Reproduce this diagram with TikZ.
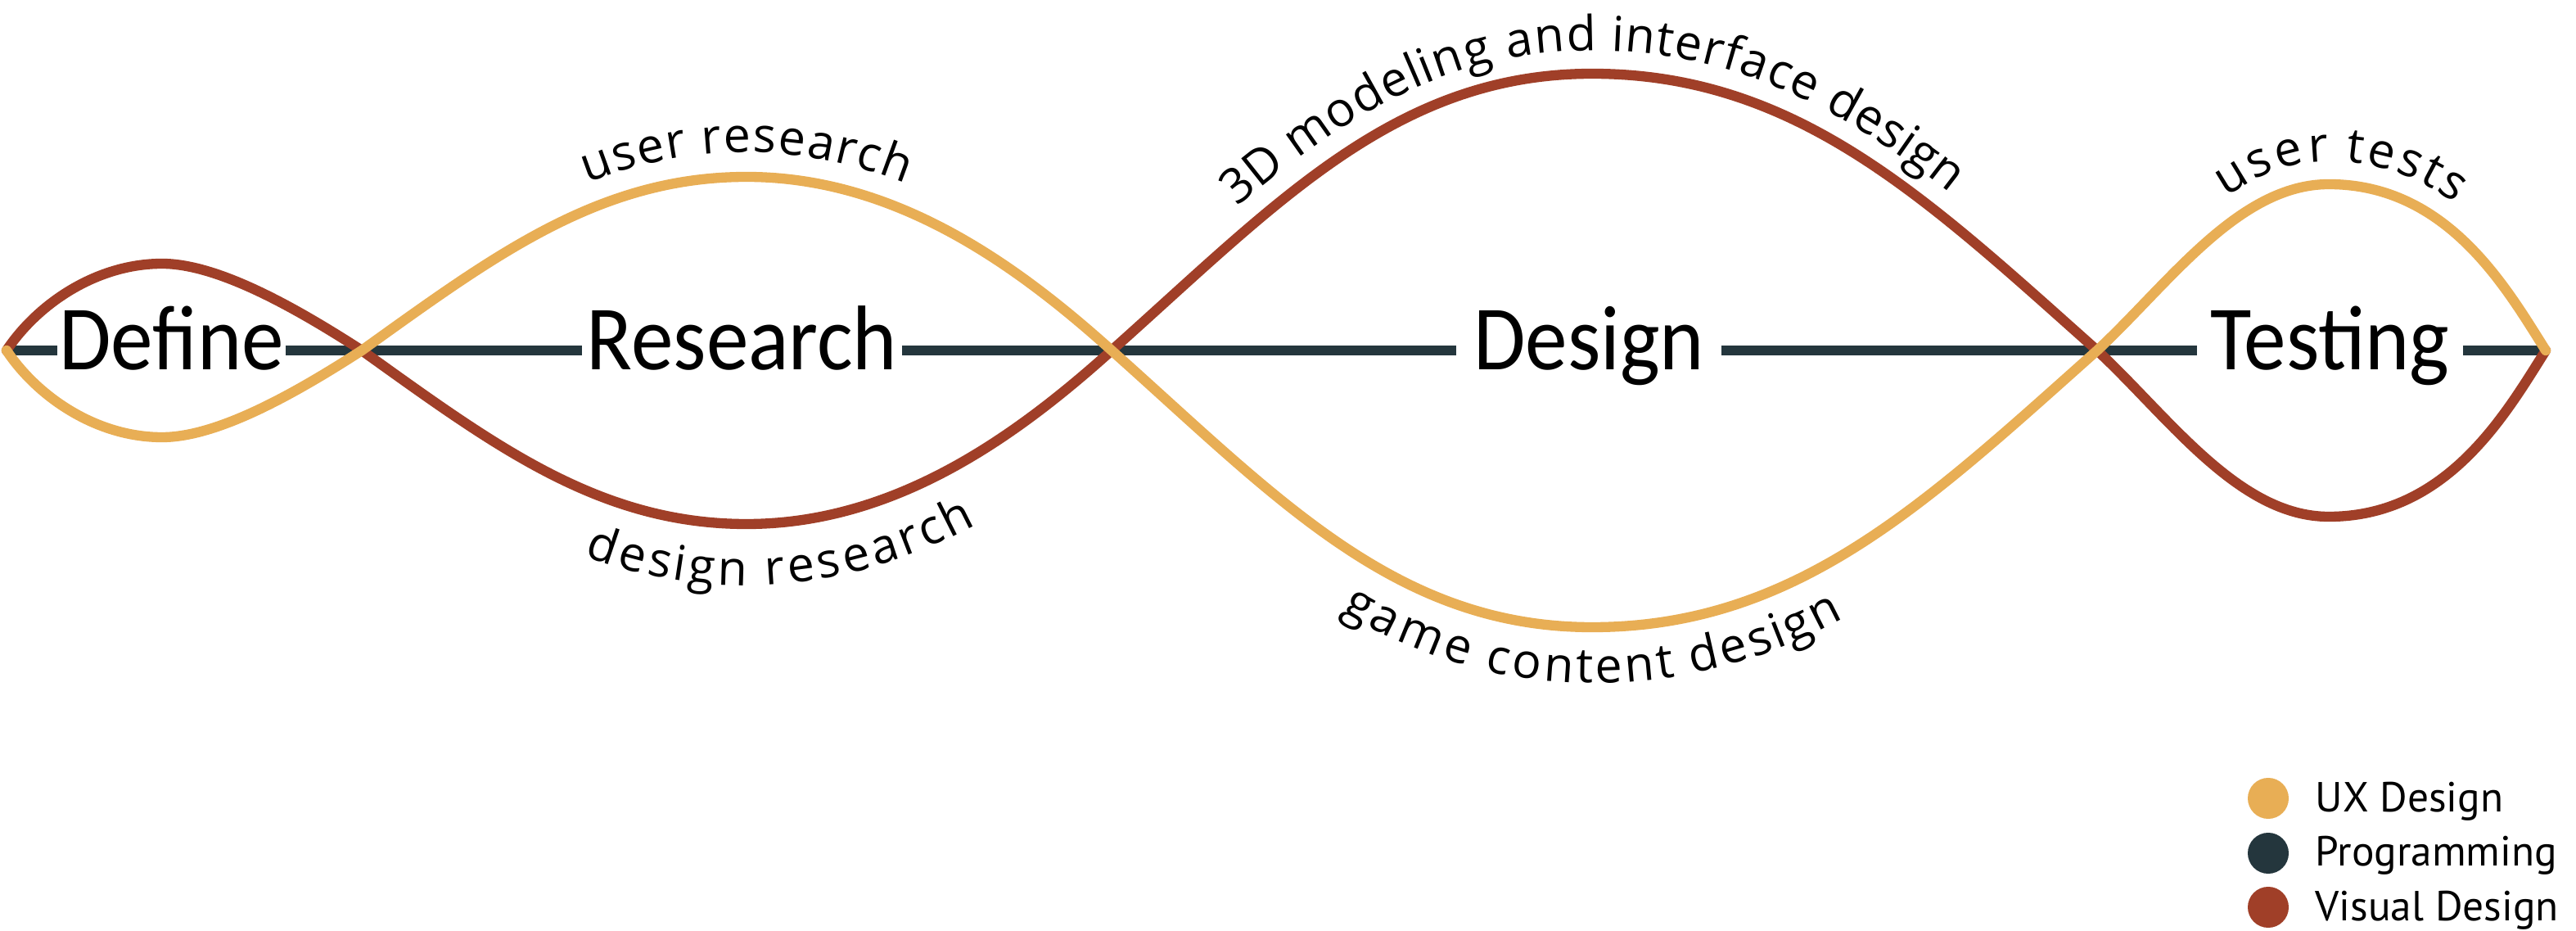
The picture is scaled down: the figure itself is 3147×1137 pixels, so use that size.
\documentclass[tikz,border=0pt]{standalone}
\usepackage{fontspec}
\setmainfont{Open Sans}
\newfontfamily\bigfont[FakeStretch=0.92]{Carlito}
\newfontfamily\curvefont{Open Sans}
\newfontfamily\legfont{PT Sans}
\usetikzlibrary{decorations.text}
\definecolor{uxcol}{HTML}{E8AE55}
\definecolor{progcol}{HTML}{24363D}
\definecolor{viscol}{HTML}{A03F28}
\newcommand{\curvelabfont}{\curvefont\fontsize{16.8pt}{20pt}\selectfont}
\begin{document}
\begin{tikzpicture}[x=0.01cm,y=-0.01cm,
  stage/.style={font=\bigfont\fontsize{31.9pt}{36pt}\selectfont, inner sep=0pt, text height=0.71cm, text depth=0.25cm},
  axisline/.style={progcol, line width=3.4pt},
  uxline/.style={uxcol, line width=3.5pt, line cap=round},
  visline/.style={viscol, line width=3.5pt, line cap=round},
  legdot/.style={circle, minimum size=0.5cm, inner sep=0pt},
  legtext/.style={font=\legfont\fontsize{14.6pt}{18pt}\selectfont, anchor=base west, inner sep=0pt}
]
\useasboundingbox (0,0) rectangle (3147,1137);

% crossing points on the axis
\coordinate (s) at (8,428);
\coordinate (x1) at (442,428);
\coordinate (x2) at (1358,428);
\coordinate (x3) at (2562,428);
\coordinate (e) at (3110,428);
\coordinate (as) at (14,428);
\coordinate (ae) at (3108,428);

% peaks
\coordinate (dtop) at (198,322);   \coordinate (dbot) at (198,534);
\coordinate (rtop) at (912,216);   \coordinate (rbot) at (912,640);
\coordinate (gtop) at (1945,90);   \coordinate (gbot) at (1945,766);
\coordinate (ttop) at (2845,225);  \coordinate (tbot) at (2845,631);

% stage labels
\node[stage, minimum width=2.77cm] (define) at (209.5,428) {Define};
\node[stage, minimum width=3.89cm] (research) at (906.5,428) {Research};
\node[stage, minimum width=3.22cm] (design) at (1941,428) {Design};
\node[stage, minimum width=3.23cm] (testing) at (2846.5,428) {Testing};

% programming axis
\draw[axisline] (as) -- (define.west);
\draw[axisline] (define.east) -- (research.west);
\draw[axisline] (research.east) -- (design.west);
\draw[axisline] (design.east) -- (testing.west);
\draw[axisline] (testing.east) -- (ae);

% visual design curve
\draw[visline] (s) .. controls (46,371) and (118,322) .. (dtop)
  .. controls (268,322) and (366,379) .. (x1)
  .. controls (604,544) and (732,640) .. (rbot)
  .. controls (1092,640) and (1239,535) .. (x2)
  .. controls (1560,248) and (1705,90) .. (gtop)
  .. controls (2195,90) and (2353,242) .. (x3)
  .. controls (2650,510) and (2735,631) .. (tbot)
  .. controls (2990,631) and (3062,504) .. (e);

% UX design curve
\draw[uxline] (s) .. controls (46,485) and (118,534) .. (dbot)
  .. controls (268,534) and (366,477) .. (x1)
  .. controls (604,312) and (732,216) .. (rtop)
  .. controls (1092,216) and (1239,321) .. (x2)
  .. controls (1560,608) and (1705,766) .. (gbot)
  .. controls (2195,766) and (2353,614) .. (x3)
  .. controls (2650,346) and (2735,225) .. (ttop)
  .. controls (2990,225) and (3062,352) .. (e);

% curve labels
\path[decorate, decoration={text along path, text={|\curvelabfont|user research}, text align={center, left indent=0.2cm}, raise=0.30cm}]
  (x1) .. controls (604,312) and (732,216) .. (rtop) .. controls (1092,216) and (1239,321) .. (x2);
\path[decorate, decoration={text along path, text={|\curvelabfont|design research}, text align={center, left indent=1.0cm}, raise=-0.75cm}]
  (x1) .. controls (604,544) and (732,640) .. (rbot) .. controls (1092,640) and (1239,535) .. (x2);
\path[decorate, decoration={text along path, text={|\curvelabfont|3D modeling and interface design}, text align={center, right indent=0.3cm}, raise=0.28cm}]
  (x2) .. controls (1560,248) and (1705,90) .. (gtop) .. controls (2195,90) and (2353,242) .. (x3);
\path[decorate, decoration={text along path, text={|\curvelabfont|game content design}, text align={center, right indent=0.25cm}, raise=-0.68cm}]
  (x2) .. controls (1560,608) and (1705,766) .. (gbot) .. controls (2195,766) and (2353,614) .. (x3);
\path[decorate, decoration={text along path, text={|\curvelabfont|user tests}, text align={center, left indent=0.35cm}, raise=0.28cm}]
  (x3) .. controls (2650,346) and (2735,225) .. (ttop) .. controls (2990,225) and (3062,352) .. (e);

% legend
\node[legdot, fill=uxcol] (dot1) at (2771,975) {};
\node[legdot, fill=progcol] (dot2) at (2771,1042) {};
\node[legdot, fill=viscol] (dot3) at (2771,1108) {};
\node[legtext] (leg1) at (2828,992) {UX Design};
\node[legtext] (leg2) at (2828,1058) {Programming};
\node[legtext] (leg3) at (2828,1124) {Visual Design};
\end{tikzpicture}
\end{document}
